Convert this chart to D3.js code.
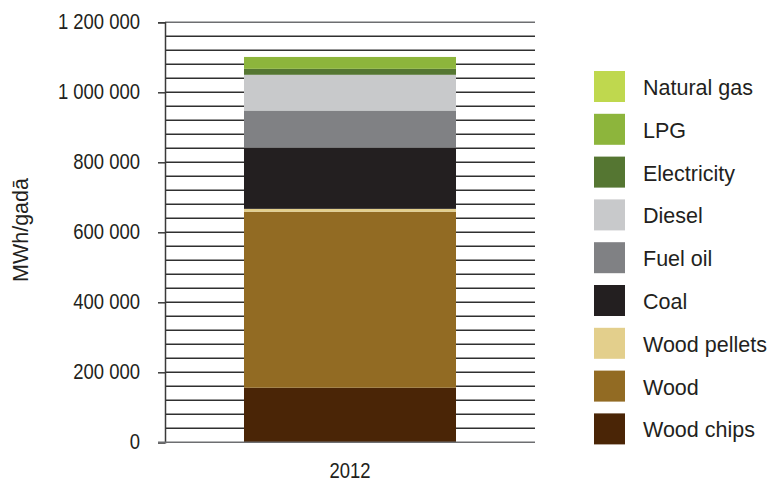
<!DOCTYPE html>
<html>
<head>
<meta charset="utf-8">
<script src="https://cdn.jsdelivr.net/npm/d3@7"></script>
<style>
  body { margin: 0; background: #fff; }
  svg text { font-family: "Liberation Sans", Arial, sans-serif; fill: #231f20; }
</style>
</head>
<body>
<svg id="chart" width="770" height="482"></svg>
<script>
// Energy consumption by fuel type, MWh per year
const years = ["2012"];
const fuels = ["Wood chips", "Wood", "Wood pellets", "Coal", "Fuel oil", "Diesel", "Electricity", "LPG", "Natural gas"];
const values2012 = [156000, 503000, 8000, 175000, 106000, 102000, 17000, 34000, 0];
const fuelColors = ["#4a2506", "#926b23", "#e3cf8c", "#231f20", "#808184", "#c8c9cb", "#557632", "#8db53c", "#bfd84e"];
const yTicks = [0, 200000, 400000, 600000, 800000, 1000000, 1200000];
const yTickLabels = ["0", "200 000", "400 000", "600 000", "800 000", "1 000 000", "1 200 000"];

const svg = d3.select("#chart");
const plotLeft = 165, plotRight = 535, plotTop = 22.3, plotBottom = 442.3;
const fontFamily = "\"Liberation Sans\", Arial, sans-serif";

// Narrow numerals: squeeze glyphs horizontally to a condensed width
function condense(sel, factor) {
  sel.each(function () {
    const w = this.getComputedTextLength();
    d3.select(this).attr("textLength", w * factor).attr("lengthAdjust", "spacingAndGlyphs");
  });
}

const y = d3.scaleLinear().domain([0, 1200000]).range([plotBottom, plotTop]);
const x = d3.scaleBand().domain(years).range([plotLeft, plotRight]).paddingInner(0).paddingOuter(0.3726);

// Minor gridlines every 40 000
const grid = d3.range(40000, 1200001, 40000);
svg.append("g").selectAll("line").data(grid).join("line")
  .attr("x1", plotLeft).attr("x2", plotRight)
  .attr("y1", d => y(d)).attr("y2", d => y(d))
  .attr("stroke", d => d === 1200000 ? "#6d6e71" : "#303030")
  .attr("stroke-width", 1.5);

// Stacked bar
const rows = years.map(yr => {
  const o = { year: yr };
  fuels.forEach((f, i) => o[f] = values2012[i]);
  return o;
});
const stack = d3.stack().keys(fuels)(rows);
const color = d3.scaleOrdinal().domain(fuels).range(fuelColors);

svg.append("g").selectAll("g").data(stack).join("g")
  .attr("fill", d => color(d.key))
  .selectAll("rect").data(d => d).join("rect")
  .attr("x", d => x(d.data.year))
  .attr("width", x.bandwidth())
  .attr("y", d => y(d[1]))
  .attr("height", d => y(d[0]) - y(d[1]));

// Y axis
const yAxis = d3.axisLeft(y).tickValues(yTicks)
  .tickFormat((d, i) => yTickLabels[i]).tickSize(7).tickPadding(18);
const gy = svg.append("g").attr("transform", `translate(${plotLeft},0)`).call(yAxis);
gy.select(".domain").attr("stroke", "#3a3a3a").attr("stroke-width", 1.5);
gy.selectAll(".tick line").attr("stroke", "#3a3a3a").attr("stroke-width", 1.5);
gy.selectAll(".tick text").attr("font-size", 22.5).attr("fill", "#231f20")
  .attr("font-family", fontFamily).attr("dy", "0.26em")
  .call(condense, 0.82);

// Baseline
svg.append("line").attr("x1", plotLeft - 7).attr("x2", plotRight)
  .attr("y1", y(0)).attr("y2", y(0))
  .attr("stroke", "#6d6e71").attr("stroke-width", 1.5);

// X axis label
svg.append("g").selectAll("text").data(years).join("text")
  .attr("x", d => x(d) + x.bandwidth() / 2)
  .attr("y", 478)
  .attr("text-anchor", "middle")
  .attr("font-size", 22.5)
  .text(d => d)
  .call(condense, 0.82);

// Y axis title
svg.append("text")
  .attr("transform", "translate(28,230) rotate(-90)")
  .attr("text-anchor", "middle")
  .attr("font-size", 21.5)
  .text("MWh/gadā");

// Legend, top entry = last stacked series
const legendOrder = fuels.slice().reverse();
const lg = svg.append("g").selectAll("g").data(legendOrder).join("g")
  .attr("transform", (d, i) => `translate(594,${71 + i * 42.8})`);
lg.append("rect").attr("width", 31).attr("height", 31).attr("fill", d => color(d));
lg.append("text").attr("x", 49).attr("y", 24).attr("font-size", 21.5).text(d => d);
</script>
</body>
</html>
